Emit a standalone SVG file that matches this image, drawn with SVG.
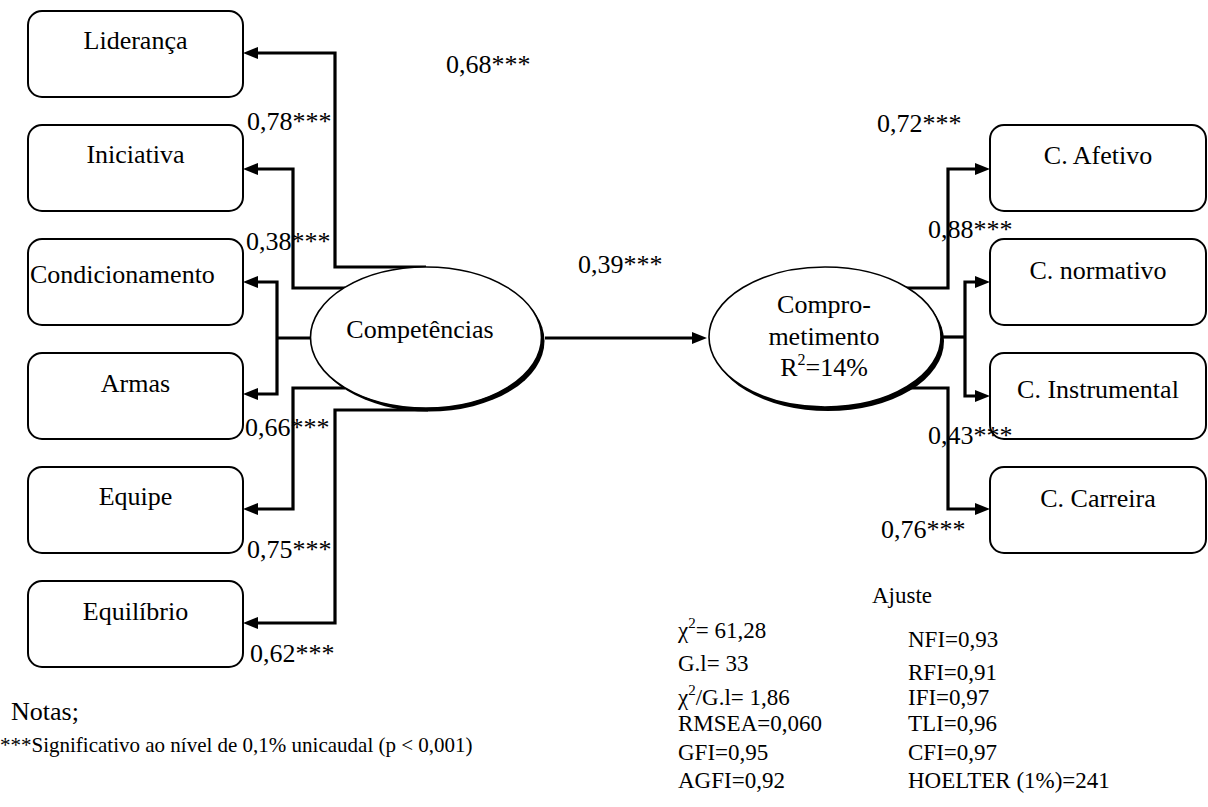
<svg xmlns="http://www.w3.org/2000/svg" width="1208" height="807" viewBox="0 0 1208 807">
<style>
text{font-family:"Liberation Serif","Times New Roman",serif;fill:#000}
.t{font-size:26px}
.c{text-anchor:middle}
.s{font-size:23px}
.n{font-size:21px}
.box{fill:#fff;stroke:#000;stroke-width:2}
.ell{fill:#fff;stroke:#000;stroke-width:1.6}
.sh{fill:#000}
.ln{fill:none;stroke:#000;stroke-width:3.2}
</style>
<defs>
<marker id="ah" markerUnits="userSpaceOnUse" viewBox="0 0 15 12" refX="3" refY="6" markerWidth="15" markerHeight="12" orient="auto">
<path d="M0,0 L15,6 L0,12 z" fill="#000"/>
</marker>
</defs>
<rect width="1208" height="807" fill="#fff"/>

<g id="connectors">
<path class="ln" d="M426 267 H335 V53 H255" marker-end="url(#ah)"/>
<path class="ln" d="M345 288 H293 V169 H255" marker-end="url(#ah)"/>
<path class="ln" d="M310 338 H277"/>
<path class="ln" d="M277 338 V282 H255" marker-end="url(#ah)"/>
<path class="ln" d="M277 338 V394 H255" marker-end="url(#ah)"/>
<path class="ln" d="M345 388 H293 V509 H255" marker-end="url(#ah)"/>
<path class="ln" d="M428 410 H335 V623 H255" marker-end="url(#ah)"/>
<path class="ln" d="M545 338 H695" marker-end="url(#ah)"/>
<path class="ln" d="M906 288 H948 V169 H978" marker-end="url(#ah)"/>
<path class="ln" d="M941 337 H965"/>
<path class="ln" d="M965 337 V282 H978" marker-end="url(#ah)"/>
<path class="ln" d="M965 337 V396 H978" marker-end="url(#ah)"/>
<path class="ln" d="M906 388 H948 V509 H978" marker-end="url(#ah)"/>
</g>

<g id="lideranca"><rect class="box" x="28" y="11" width="215" height="86" rx="14"/><text class="t c" x="135.5" y="49">Liderança</text></g>
<g id="iniciativa"><rect class="box" x="28" y="125" width="215" height="86" rx="14"/><text class="t c" x="135.5" y="163">Iniciativa</text></g>
<g id="condicionamento"><rect class="box" x="28" y="239" width="215" height="86" rx="14"/><text class="t" x="30" y="283">Condicionamento</text></g>
<g id="armas"><rect class="box" x="28" y="353" width="215" height="86" rx="14"/><text class="t c" x="135.5" y="392">Armas</text></g>
<g id="equipe"><rect class="box" x="28" y="467" width="215" height="86" rx="14"/><text class="t c" x="135.5" y="505">Equipe</text></g>
<g id="equilibrio"><rect class="box" x="28" y="581" width="215" height="86" rx="14"/><text class="t c" x="135.5" y="620">Equilíbrio</text></g>

<g id="competencias">
<ellipse class="sh" cx="429" cy="341" rx="115.5" ry="70.5"/>
<ellipse class="ell" cx="426" cy="337.5" rx="115.5" ry="70.5"/>
<text class="t c" x="420" y="338">Competências</text>
</g>

<g id="comprometimento">
<ellipse class="sh" cx="828" cy="341" rx="116" ry="70"/>
<ellipse class="ell" cx="825" cy="337" rx="116" ry="70"/>
<text class="t c" x="824" y="313">Compro-</text>
<text class="t c" x="824" y="345">metimento</text>
<text class="t c" x="824" y="376">R<tspan font-size="16" dy="-11">2</tspan><tspan dy="11">=14%</tspan></text>
</g>

<g id="c-afetivo"><rect class="box" x="990" y="125" width="216" height="86" rx="14"/><text class="t c" x="1098" y="164">C. Afetivo</text></g>
<g id="c-normativo"><rect class="box" x="990" y="239" width="216" height="86" rx="14"/><text class="t c" x="1098" y="279">C. normativo</text></g>
<g id="c-instrumental"><rect class="box" x="990" y="353" width="216" height="86" rx="14"/><text class="t c" x="1098" y="398">C. Instrumental</text></g>
<g id="c-carreira"><rect class="box" x="990" y="467" width="216" height="86" rx="14"/><text class="t c" x="1098" y="507">C. Carreira</text></g>

<g id="labels">
<text class="t" x="446" y="73">0,68***</text>
<text class="t" x="247" y="130">0,78***</text>
<text class="t" x="246" y="250">0,38***</text>
<text class="t" x="245" y="436">0,66***</text>
<text class="t" x="247" y="558">0,75***</text>
<text class="t" x="250" y="662">0,62***</text>
<text class="t" x="578" y="273">0,39***</text>
<text class="t" x="877" y="132">0,72***</text>
<text class="t" x="928" y="238">0,88***</text>
<text class="t" x="928" y="444">0,43***</text>
<text class="t" x="881" y="538">0,76***</text>
</g>

<g id="notes">
<text class="t" x="11" y="720">Notas;</text>
<text class="n" x="0" y="752">***Significativo ao nível de 0,1% unicaudal (p &lt; 0,001)</text>
</g>

<g id="fit">
<text class="s" x="872" y="603">Ajuste</text>
<text class="s" x="678" y="638">χ<tspan font-size="15" dy="-10">2</tspan><tspan dy="10">= 61,28</tspan></text>
<text class="s" x="678" y="671">G.l= 33</text>
<text class="s" x="678" y="705">χ<tspan font-size="15" dy="-10">2</tspan><tspan dy="10">/G.l= 1,86</tspan></text>
<text class="s" x="678" y="731">RMSEA=0,060</text>
<text class="s" x="678" y="760">GFI=0,95</text>
<text class="s" x="678" y="788">AGFI=0,92</text>
<text class="s" x="908" y="647">NFI=0,93</text>
<text class="s" x="908" y="680">RFI=0,91</text>
<text class="s" x="908" y="705">IFI=0,97</text>
<text class="s" x="908" y="731">TLI=0,96</text>
<text class="s" x="908" y="760">CFI=0,97</text>
<text class="s" x="908" y="788">HOELTER (1%)=241</text>
</g>
</svg>
